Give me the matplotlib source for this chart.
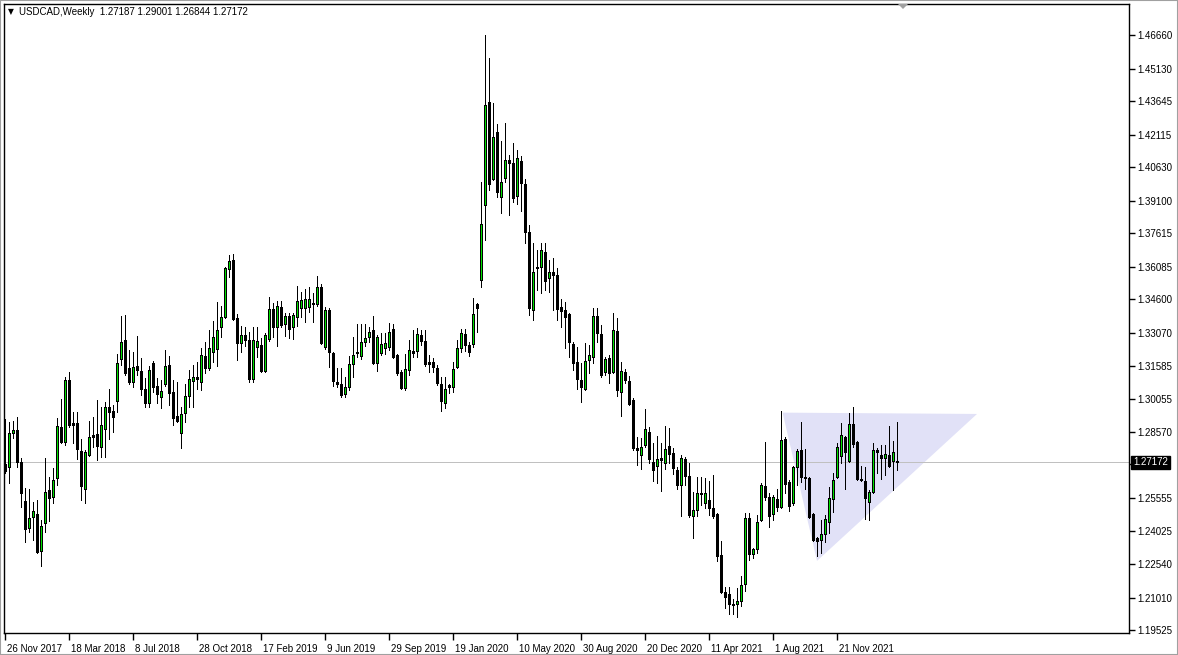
import matplotlib
matplotlib.use("Agg")
import matplotlib.pyplot as plt
import matplotlib.transforms as mtransforms
from matplotlib.patches import Polygon, Rectangle
import pandas as pd

symbol = "USDCAD,Weekly"
first_week = "2017-11-26"

opens = [1.2710, 1.2696, 1.2851, 1.2865, 1.2719, 1.2541, 1.2418, 1.2468, 1.2482, 1.2313,
         1.2441, 1.2591, 1.2559, 1.2646, 1.2879, 1.2810, 1.3093, 1.2897, 1.2897, 1.2769,
         1.2596, 1.2751, 1.2842, 1.2847, 1.2787, 1.2869, 1.2970, 1.2951, 1.2997, 1.3188,
         1.3275, 1.3147, 1.3084, 1.3157, 1.3134, 1.3052, 1.2988, 1.3170, 1.3065, 1.3015,
         1.3075, 1.3161, 1.3038, 1.2928, 1.2851, 1.2942, 1.3020, 1.3088, 1.3097, 1.3084,
         1.3202, 1.3147, 1.3220, 1.3234, 1.3334, 1.3380, 1.3599, 1.3640, 1.3375, 1.3261,
         1.3298, 1.3275, 1.3097, 1.3243, 1.3252, 1.3134, 1.3280, 1.3417, 1.3334, 1.3426,
         1.3348, 1.3385, 1.3334, 1.3380, 1.3421, 1.3421, 1.3426, 1.3444, 1.3439, 1.3517,
         1.3243, 1.3412, 1.3216, 1.3084, 1.3075, 1.3029, 1.3061, 1.3166, 1.3216, 1.3202,
         1.3266, 1.3289, 1.3321, 1.3170, 1.3216, 1.3239, 1.3243, 1.3325, 1.3207, 1.3129,
         1.3056, 1.3138, 1.3225, 1.3225, 1.3298, 1.3270, 1.3166, 1.3175, 1.3147, 1.3075,
         1.2988, 1.3070, 1.3061, 1.3152, 1.3239, 1.3303, 1.3252, 1.3257, 1.3439, 1.3549,
         1.3891, 1.4361, 1.4009, 1.4224, 1.3927, 1.4014, 1.4096, 1.4082, 1.3932, 1.4091,
         1.3987, 1.3767, 1.3412, 1.3604, 1.3608, 1.3676, 1.3558, 1.3585, 1.3571, 1.3426,
         1.3412, 1.3394, 1.3257, 1.3175, 1.3093, 1.3052, 1.3184, 1.3198, 1.3385, 1.3303,
         1.3129, 1.3193, 1.3129, 1.3316, 1.3038, 1.3129, 1.3088, 1.3002, 1.2783, 1.2751,
         1.2796, 1.2856, 1.2719, 1.2700, 1.2737, 1.2714, 1.2792, 1.2760, 1.2682, 1.2614,
         1.2732, 1.2655, 1.2473, 1.2500, 1.2577, 1.2532, 1.2546, 1.2509, 1.2482, 1.2295,
         1.2126, 1.2117, 1.2071, 1.2071, 1.2085, 1.2163, 1.2463, 1.2299, 1.2322, 1.2454,
         1.2609, 1.2559, 1.2482, 1.2550, 1.2514, 1.2823, 1.2628, 1.2532, 1.2696, 1.2774,
         1.2650, 1.2646, 1.2482, 1.2372, 1.2363, 1.2390, 1.2445, 1.2550, 1.2650, 1.2746,
         1.2833, 1.2723, 1.2892, 1.2810, 1.2641, 1.2632, 1.2536, 1.2582, 1.2774, 1.2751,
         1.2737, 1.2751, 1.2723, 1.27187]
highs = [1.2915, 1.2901, 1.2906, 1.2924, 1.2737, 1.2600, 1.2596, 1.2537, 1.2546, 1.2454,
         1.2737, 1.2650, 1.2691, 1.2919, 1.3006, 1.3106, 1.3129, 1.2947, 1.2947, 1.2824,
         1.2774, 1.2906, 1.2924, 1.3002, 1.2970, 1.2992, 1.3052, 1.2979, 1.3211, 1.3385,
         1.3389, 1.3230, 1.3220, 1.3293, 1.3193, 1.3102, 1.3157, 1.3179, 1.3102, 1.3093,
         1.3230, 1.3202, 1.3093, 1.3084, 1.2970, 1.3075, 1.3138, 1.3161, 1.3175, 1.3239,
         1.3266, 1.3321, 1.3362, 1.3448, 1.3430, 1.3608, 1.3663, 1.3667, 1.3394, 1.3339,
         1.3334, 1.3312, 1.3334, 1.3334, 1.3284, 1.3307, 1.3471, 1.3444, 1.3453, 1.3453,
         1.3398, 1.3398, 1.3398, 1.3521, 1.3494, 1.3508, 1.3517, 1.3490, 1.3567, 1.3530,
         1.3426, 1.3421, 1.3220, 1.3147, 1.3147, 1.3106, 1.3202, 1.3289, 1.3348, 1.3348,
         1.3348, 1.3334, 1.3385, 1.3298, 1.3307, 1.3307, 1.3353, 1.3348, 1.3211, 1.3138,
         1.3211, 1.3275, 1.3321, 1.3330, 1.3321, 1.3321, 1.3207, 1.3193, 1.3161, 1.3106,
         1.3106, 1.3075, 1.3175, 1.3275, 1.3325, 1.3325, 1.3266, 1.3467, 1.3444, 1.3996,
         1.4666, 1.4561, 1.4356, 1.4260, 1.4183, 1.4265, 1.4119, 1.4174, 1.4141, 1.4114,
         1.4009, 1.3800, 1.3717, 1.3686, 1.3717, 1.3717, 1.3640, 1.3649, 1.3604, 1.3462,
         1.3448, 1.3398, 1.3266, 1.3243, 1.3170, 1.3261, 1.3252, 1.3421, 1.3421, 1.3344,
         1.3198, 1.3207, 1.3398, 1.3375, 1.3175, 1.3143, 1.3111, 1.3011, 1.2833, 1.2828,
         1.2961, 1.2879, 1.2806, 1.2837, 1.2806, 1.2883, 1.2874, 1.2783, 1.2696, 1.2751,
         1.2741, 1.2714, 1.2582, 1.2650, 1.2650, 1.2646, 1.2632, 1.2660, 1.2486, 1.2359,
         1.2149, 1.2149, 1.2094, 1.2144, 1.2199, 1.2486, 1.2486, 1.2327, 1.2477, 1.2623,
         1.2810, 1.2577, 1.2568, 1.2596, 1.2951, 1.2833, 1.2637, 1.2700, 1.2778, 1.2901,
         1.2778, 1.2650, 1.2486, 1.2377, 1.2454, 1.2477, 1.2605, 1.2669, 1.2806, 1.2897,
         1.2837, 1.2942, 1.2970, 1.2815, 1.2701, 1.2696, 1.2591, 1.2806, 1.2783, 1.2796,
         1.2796, 1.2883, 1.2815, 1.29001]
lows = [1.2669, 1.2623, 1.2828, 1.2696, 1.2514, 1.2354, 1.2400, 1.2363, 1.2304, 1.2245,
        1.2400, 1.2450, 1.2532, 1.2614, 1.2806, 1.2796, 1.2879, 1.2806, 1.2733, 1.2546,
        1.2532, 1.2746, 1.2787, 1.2728, 1.2742, 1.2742, 1.2824, 1.2856, 1.2947, 1.3161,
        1.3116, 1.3075, 1.3061, 1.3116, 1.3024, 1.2970, 1.2970, 1.3038, 1.2988, 1.2965,
        1.3065, 1.2979, 1.2888, 1.2901, 1.2783, 1.2901, 1.2970, 1.2970, 1.3052, 1.3047,
        1.3125, 1.3138, 1.3175, 1.3157, 1.3289, 1.3375, 1.3562, 1.3366, 1.3184, 1.3220,
        1.3248, 1.3084, 1.3084, 1.3198, 1.3129, 1.3129, 1.3270, 1.3289, 1.3248, 1.3334,
        1.3293, 1.3284, 1.3280, 1.3339, 1.3380, 1.3357, 1.3403, 1.3357, 1.3430, 1.3257,
        1.3234, 1.3152, 1.3065, 1.3061, 1.3015, 1.3015, 1.3047, 1.3106, 1.3198, 1.3188,
        1.3248, 1.3266, 1.3166, 1.3134, 1.3207, 1.3211, 1.3230, 1.3193, 1.3116, 1.3052,
        1.3047, 1.3116, 1.3198, 1.3198, 1.3252, 1.3157, 1.3129, 1.3129, 1.3070, 1.2952,
        1.2965, 1.3034, 1.3038, 1.3147, 1.3220, 1.3225, 1.3202, 1.3243, 1.3312, 1.3517,
        1.3731, 1.3959, 1.4005, 1.3927, 1.3854, 1.3996, 1.3845, 1.3904, 1.3895, 1.3863,
        1.3717, 1.3389, 1.3366, 1.3503, 1.3489, 1.3503, 1.3494, 1.3412, 1.3366, 1.3334,
        1.3239, 1.3198, 1.3138, 1.3052, 1.2992, 1.3047, 1.3125, 1.3170, 1.3266, 1.3106,
        1.3116, 1.3079, 1.3125, 1.3020, 1.2929, 1.3079, 1.2979, 1.2774, 1.2705, 1.2687,
        1.2787, 1.2714, 1.2632, 1.2623, 1.2586, 1.2687, 1.2714, 1.2664, 1.2596, 1.2473,
        1.2614, 1.2468, 1.2372, 1.2473, 1.2523, 1.2509, 1.2477, 1.2463, 1.2268, 1.2121,
        1.2053, 1.2026, 1.2026, 1.2012, 1.2062, 1.2131, 1.2272, 1.2281, 1.2304, 1.2450,
        1.2546, 1.2422, 1.2454, 1.2495, 1.2509, 1.2577, 1.2495, 1.2523, 1.2614, 1.2628,
        1.2596, 1.2463, 1.2359, 1.2290, 1.2304, 1.2354, 1.2395, 1.2491, 1.2646, 1.2714,
        1.2596, 1.2719, 1.2787, 1.2637, 1.2632, 1.2459, 1.2454, 1.2577, 1.2669, 1.2641,
        1.2660, 1.2696, 1.2591, 1.26844]
closes = [1.2678, 1.2851, 1.2865, 1.2719, 1.2577, 1.2413, 1.2463, 1.2495, 1.2308, 1.2427,
          1.2582, 1.2555, 1.2637, 1.2883, 1.2810, 1.3093, 1.2888, 1.2888, 1.2778, 1.2609,
          1.2765, 1.2833, 1.2833, 1.2792, 1.2888, 1.2970, 1.2947, 1.2924, 1.3170, 1.3266,
          1.3125, 1.3084, 1.3152, 1.3138, 1.3052, 1.2988, 1.3138, 1.3061, 1.3029, 1.3043,
          1.3157, 1.3034, 1.2919, 1.2906, 1.2938, 1.3020, 1.3097, 1.3106, 1.3106, 1.3207,
          1.3147, 1.3239, 1.3289, 1.3321, 1.3380, 1.3604, 1.3636, 1.3371, 1.3261, 1.3298,
          1.3275, 1.3097, 1.3275, 1.3270, 1.3134, 1.3298, 1.3417, 1.3334, 1.3430, 1.3344,
          1.3385, 1.3325, 1.3389, 1.3453, 1.3458, 1.3462, 1.3462, 1.3439, 1.3517, 1.3261,
          1.3412, 1.3220, 1.3088, 1.3075, 1.3024, 1.3061, 1.3166, 1.3207, 1.3220, 1.3266,
          1.3284, 1.3312, 1.3170, 1.3289, 1.3257, 1.3261, 1.3312, 1.3198, 1.3125, 1.3056,
          1.3143, 1.3230, 1.3216, 1.3303, 1.3270, 1.3166, 1.3175, 1.3152, 1.3079, 1.2997,
          1.3052, 1.3061, 1.3143, 1.3239, 1.3307, 1.3252, 1.3220, 1.3394, 1.3421, 1.3804,
          1.4347, 1.3987, 1.4201, 1.3950, 1.3996, 1.4096, 1.4082, 1.3923, 1.4105, 1.3991,
          1.3767, 1.3421, 1.3585, 1.3603, 1.3686, 1.3544, 1.3585, 1.3571, 1.3416, 1.3407,
          1.3380, 1.3266, 1.3170, 1.3097, 1.3061, 1.3179, 1.3207, 1.3385, 1.3307, 1.3116,
          1.3188, 1.3125, 1.3321, 1.3047, 1.3134, 1.3093, 1.2983, 1.2783, 1.2774, 1.2787,
          1.2869, 1.2733, 1.2682, 1.2732, 1.2728, 1.2778, 1.2755, 1.2691, 1.2614, 1.2737,
          1.2655, 1.2477, 1.2500, 1.2577, 1.2573, 1.2577, 1.2509, 1.2473, 1.2290, 1.2126,
          1.2103, 1.2071, 1.2066, 1.2085, 1.2158, 1.2463, 1.2299, 1.2322, 1.2445, 1.2614,
          1.2559, 1.2473, 1.2559, 1.2514, 1.2819, 1.2618, 1.2518, 1.2696, 1.2769, 1.2650,
          1.2646, 1.2468, 1.2363, 1.2359, 1.2390, 1.2459, 1.2555, 1.2637, 1.2787, 1.2842,
          1.2764, 1.2892, 1.2801, 1.2641, 1.2637, 1.2555, 1.2582, 1.2774, 1.2764, 1.2737,
          1.2755, 1.2700, 1.2764, 1.27172]

price_ticks = [1.46660, 1.45130, 1.43645, 1.42115, 1.40630, 1.39100, 1.37615, 1.36085,
               1.34600, 1.33070, 1.31585, 1.30055, 1.28570, 1.27085, 1.25555, 1.24025,
               1.22540, 1.21010, 1.19525]
label_every = 16

# triangle pattern drawn on the chart: (bar offset, price)
triangle_bars = [194.4, 243.0, 203.0]
triangle_prices = [1.2944, 1.2938, 1.2268]

n = len(opens)
dates = pd.date_range(first_week, periods=n, freq="7D")
idx = list(range(n))
last = closes[-1]

W, H = 1178, 655
fig = plt.figure(figsize=(W / 100, H / 100), dpi=100)
fig.patch.set_facecolor("white")
L, R, T, B = 4, 1129, 4, 633
ax = fig.add_axes([L / W, (H - B) / H, (R - L) / W, (B - T) / H])
ax.set_facecolor("white")
ax.set_xlim(-0.25, -0.25 + (R - L) / 4.0)
y0, y1 = 1.48256 - 0.000456 * B, 1.48256 - 0.000456 * T
ax.set_ylim(y0, y1)
ppx = (y1 - y0) / (B - T)  # price per pixel

FONT = ["Liberation Sans", "DejaVu Sans"]
PX = 0.72  # one pixel in points at 100 dpi

# triangle object
ax.add_patch(Polygon(list(zip(triangle_bars, triangle_prices)), closed=True,
                     facecolor="#E1E1F7", edgecolor="none", zorder=1))

# current price line
ax.axhline(last, color="#C0C0C0", lw=PX, zorder=1.5)

# candles: wick, 3px black body, 1px green core for rising weeks
tops = [max(o, c) for o, c in zip(opens, closes)]
bots = [min(o, c) for o, c in zip(opens, closes)]
tops = [max(t, b + ppx) for t, b in zip(tops, bots)]
ax.vlines(idx, lows, highs, color="black", lw=PX, zorder=2, antialiased=False)
ax.vlines(idx, bots, tops, color="black", lw=3 * PX, zorder=3, antialiased=False)
bi = [i for i in idx if closes[i] > opens[i] and tops[i] - bots[i] > 2.5 * ppx]
ax.vlines(bi, [bots[i] + ppx for i in bi], [tops[i] - ppx for i in bi],
          color="#00E000", lw=PX, zorder=4, antialiased=False)

# axes styling
for s in ax.spines.values():
    s.set_color("black")
    s.set_linewidth(1.0)

ax.yaxis.tick_right()
ax.set_yticks(price_ticks)
ax.set_yticklabels(["" if abs(v - last) < 0.003 else f"{v:.5f}" for v in price_ticks],
                   fontfamily=FONT, fontsize=7)
ax.tick_params(axis="y", direction="out", length=4, width=1, pad=2, colors="black")

xt = idx[::label_every]
ax.set_xticks(xt)
ax.set_xticklabels([f"{d.day} {d.strftime('%b %Y')}" for d in dates[::label_every]],
                   fontfamily=FONT, fontsize=7, ha="left")
ax.tick_params(axis="x", direction="out", length=5, width=1, pad=3, colors="black")
off = mtransforms.ScaledTranslation(2 / 100, 0, fig.dpi_scale_trans)
for lab in ax.get_xticklabels():
    lab.set_transform(lab.get_transform() + off)

# current price box on the scale
trans = mtransforms.blended_transform_factory(ax.transAxes, ax.transData)
ax.text(1.0, last, f"{last:.5f}", transform=trans + mtransforms.ScaledTranslation(4 / 100, 0, fig.dpi_scale_trans),
        ha="left", va="center", color="white", fontsize=7, fontfamily=FONT,
        bbox=dict(facecolor="black", edgecolor="black", pad=1.2), zorder=10, clip_on=False)

# header
fig.text(8 / W, 1 - 12 / H, "\u25BC", fontsize=5.5, fontfamily=["DejaVu Sans"], va="center", ha="left")
fig.text(19 / W, 1 - 12 / H,
         f"{symbol}  {opens[-1]:.5f} {highs[-1]:.5f} {lows[-1]:.5f} {closes[-1]:.5f}",
         fontsize=7, fontfamily=FONT, va="center", ha="left")

# chart shift marker
fig.patches.append(Polygon([(898 / W, 1 - 4 / H), (908 / W, 1 - 4 / H), (903 / W, 1 - 9 / H)],
                           closed=True, transform=fig.transFigure, facecolor="#A0A0A0",
                           edgecolor="none"))
# window frame
fig.patches.append(Rectangle((0, 0), 1, 1, transform=fig.transFigure, fill=False,
                             edgecolor="#A0A0A0", linewidth=1.5))

fig.savefig("out.png", dpi=100)
